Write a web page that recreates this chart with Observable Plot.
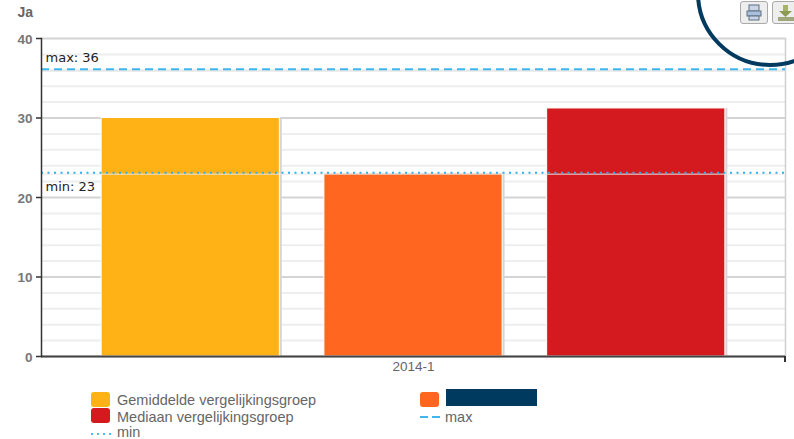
<!DOCTYPE html>
<html>
<head>
<meta charset="utf-8">
<script src="https://cdn.jsdelivr.net/npm/d3@7"></script>
<script src="https://cdn.jsdelivr.net/npm/@observablehq/plot@0.6"></script>
<style>
html,body{margin:0;padding:0;background:#fff;}
#wrap{position:relative;width:794px;height:439px;overflow:hidden;font-family:"Liberation Sans",Arial,sans-serif;}
#chart svg{display:block;}
.abs{position:absolute;}
.lg{position:absolute;font-size:14.5px;line-height:11px;color:#666;white-space:nowrap;}
.sw{position:absolute;width:19px;height:15px;border-radius:3px;}
.btn{position:absolute;top:1px;width:26px;height:21px;border:1px solid #aaa;border-radius:3px;background:#eee;}
</style>
</head>
<body>
<div id="wrap">
  <div id="chart"></div>
  <div class="abs" style="left:784px;top:356px;width:2px;height:6px;background:#333"></div>

  <div class="sw" style="left:91px;top:392px;background:#ffb216"></div>
  <div class="lg" style="left:117px;top:395px" id="l0"></div>
  <div class="sw" style="left:91px;top:408px;background:#d4191f"></div>
  <div class="lg" style="left:117px;top:412px" id="l1"></div>
  <svg class="abs" style="left:91px;top:431px" width="20" height="6"><line x1="0" x2="20" y1="3" y2="3" stroke="#4dbcf0" stroke-width="2" stroke-dasharray="2 4"/></svg>
  <div class="lg" style="left:117px;top:427px" id="l2"></div>

  <div class="sw" style="left:420px;top:392px;background:#ff6720"></div>
  <div class="abs" style="left:446px;top:389px;width:91px;height:17px;background:#003a5f"></div>
  <svg class="abs" style="left:420px;top:414px" width="20" height="6"><line x1="0" x2="20" y1="3" y2="3" stroke="#3fb6ee" stroke-width="2" stroke-dasharray="8 4"/></svg>
  <div class="lg" style="left:445px;top:412px" id="l3"></div>

  <div class="btn" style="left:740px">
    <svg width="26" height="21"><rect x="8" y="3" width="10" height="6" fill="#c9d5e6" stroke="#5f6f82"/><rect x="6" y="9" width="14" height="5" fill="#a9bfdc" stroke="#5f6f82"/><rect x="8" y="14" width="10" height="4" fill="#c9d5e6" stroke="#5f6f82"/></svg>
  </div>
  <div class="btn" style="left:772px">
    <svg width="26" height="21"><rect x="10" y="3" width="5" height="6" fill="#a8b36a"/><path d="M6 9h13l-6.5 6z" fill="#8d9a52"/><rect x="5" y="15" width="16" height="4" fill="#a0a77c"/></svg>
  </div>
  <div class="abs" style="left:696px;top:-81px;width:140px;height:140px;border:4px solid #003a5f;border-radius:50%"></div>
</div>
<script>
const periods = ["2014-1"];
const series = ["Gemiddelde vergelijkingsgroep", "(afgeschermd)", "Mediaan vergelijkingsgroep"];
const values = [30, 23, 31.2];
const colors = ["#ffb216", "#ff6720", "#d4191f"];
const maxValue = 36;
const minValue = 23;
const majorTicks = [0, 10, 20, 30, 40];
const minorTicks = [2,4,6,8,12,14,16,18,22,24,26,28,32,34,36,38];
const axisLabel = "Ja";

const rows = series.map((s, i) => ({period: periods[0], series: s, value: values[i]}));

const chart = Plot.plot({
  width: 794,
  height: 375,
  marginLeft: 41,
  marginRight: 9,
  marginTop: 38,
  marginBottom: 19,
  style: {fontFamily: '"Liberation Sans",Arial,sans-serif', background: "transparent", overflow: "visible"},
  y: {domain: [0, 40]},
  x: {domain: series, paddingInner: 0.2, paddingOuter: 0.27, round: false, axis: null},
  fx: {domain: periods, padding: 0, label: null},
  color: {domain: series, range: colors},
  marks: [
    Plot.ruleY(minorTicks, {stroke: "#eeeeee", strokeWidth: 2}),
    Plot.ruleY(majorTicks, {stroke: "#d4d4d4", strokeWidth: 2}),
    Plot.frame({anchor: "right", stroke: "#cfcfcf", strokeWidth: 1.5}),
    Plot.barY(rows, {fx: "period", x: "series", y: "value", fill: "#d6d6d6", dx: 2.5}),
    Plot.barY(rows, {fx: "period", x: "series", y: "value", fill: "series", stroke: "#fff", strokeWidth: 1}),
    Plot.ruleY([maxValue], {stroke: "#e8e8e8", strokeWidth: 2, dy: 0.5}),
    Plot.ruleY([minValue], {stroke: "#e8e8e8", strokeWidth: 1, dy: 0.5}),
    Plot.ruleY([maxValue], {stroke: "#3fb6ee", strokeWidth: 2, strokeDasharray: "8 5", dy: -1}),
    Plot.ruleY([minValue], {stroke: "#2fb0ee", strokeWidth: 2, strokeDasharray: "2 4.5", dy: -1}),
    Plot.text([`max: ${maxValue}`], {frameAnchor: "left", y: [maxValue], text: d => d, dx: 4, dy: -12, fontSize: 13, fontFamily: '"DejaVu Sans"', fill: "#222"}),
    Plot.text([`min: ${minValue}`], {frameAnchor: "left", y: [minValue], text: d => d, dx: 4, dy: 13, fontSize: 13, fontFamily: '"DejaVu Sans"', fill: "#222"}),
    Plot.ruleY([0], {stroke: "#444", strokeWidth: 2}),
    Plot.frame({anchor: "left", stroke: "#333", strokeWidth: 1.5}),
    Plot.axisY({ticks: majorTicks, tickSize: 5, text: null, stroke: "#333", strokeWidth: 1.5, label: null}),
    Plot.axisY({ticks: majorTicks, tickSize: 0, tickPadding: 9, color: "#777", fontSize: 13.5, fontWeight: "bold", dy: 1, label: null}),
    Plot.axisFx({anchor: "bottom", tickSize: 0, tickPadding: 5, fontSize: 13.5, color: "#666", label: null}),
    Plot.text([axisLabel], {frameAnchor: "top-left", text: d => d, dx: -24, dy: -31, fontSize: 14, fontWeight: "bold", fill: "#666"})
  ]
});
document.getElementById("chart").appendChild(chart);

document.getElementById("l0").textContent = series[0];
document.getElementById("l1").textContent = series[2];
document.getElementById("l2").textContent = "min";
document.getElementById("l3").textContent = "max";
</script>
</body>
</html>
